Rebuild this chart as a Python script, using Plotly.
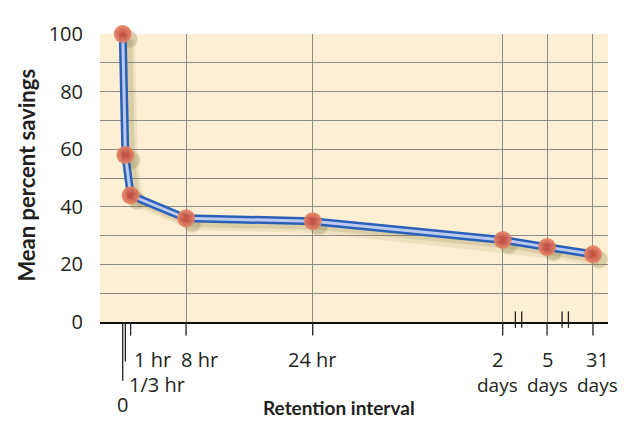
import plotly.graph_objects as go

# ---- data ----
interval_labels = ["0", "1/3 hr", "1 hr", "8 hr", "24 hr", "2\ndays", "5\ndays", "31\ndays"]
# position of each retention interval on the (broken) horizontal scale, in hour-like units
x_pos = [0, 1/3, 1, 8, 24, 48, 53.6, 59.4]
savings = [100, 58, 44, 36, 35, 28.5, 26, 23.5]
y_ticks = [0, 20, 40, 60, 80, 100]
y_minor = [10, 20, 30, 40, 50, 60, 70, 80, 90]
x_grid = [8, 24, 48, 53.6, 59.4]

FONT = "Open Sans"
TFONT = "Lato"
OFF = 8                     # page body margin of the browser
L, R, T, B = 100, 608, 23, 322   # plot area in page pixels
W, H = 627 - OFF, 426 - OFF
def px(p):  # page pixel y -> paper
    return (B - p) / (B - T)
def pxx(p):
    return (p - L) / (R - L)

fig = go.Figure()
# soft shadow
for dx, dy, a, w in [(0.8, -2.0, 0.12, 12), (0.7, -1.6, 0.18, 8)]:
    fig.add_trace(go.Scatter(x=[v + dx for v in x_pos], y=[v + dy for v in savings], mode="lines+markers",
                             line=dict(color=f"rgba(130,120,60,{a})", width=w),
                             marker=dict(size=18, color=f"rgba(130,120,60,{a})"),
                             hoverinfo="skip", cliponaxis=False))
fig.add_trace(go.Scatter(x=x_pos, y=savings, mode="lines", line=dict(color="#2a60b8", width=8),
                         cliponaxis=False, hoverinfo="skip"))
fig.add_trace(go.Scatter(x=x_pos, y=savings, mode="lines", line=dict(color="#bccaee", width=3),
                         cliponaxis=False, hoverinfo="skip"))
fig.add_trace(go.Scatter(x=x_pos, y=savings, mode="markers",
                         marker=dict(size=18, color="#e6866a", opacity=0.92,
                                     gradient=dict(type="radial", color="#c2402e"),
                                     line=dict(width=0)),
                         cliponaxis=False))

shapes = []
tick_bottoms = [383, 363, 336, 336, 336, 336, 336, 336]
for xv, bot in zip(x_pos, tick_bottoms):
    shapes.append(dict(type="line", xref="x", yref="paper", x0=xv, x1=xv, y0=0, y1=px(bot),
                       line=dict(color="#222222", width=1.3)))
for xb in [49.6, 50.4, 55.5, 56.3]:
    shapes.append(dict(type="line", xref="x", yref="paper", x0=xb, x1=xb, y0=px(311), y1=px(328),
                       line=dict(color="#222222", width=1.3)))

annotations = []
label_px = [(122.7, 407, "center"), (127, 386, "left"), (132, 360, "left"), (199, 360, "center"),
            (312, 360, "center")]
for (xp, yp, anc), lab in zip(label_px, interval_labels[:5]):
    annotations.append(dict(xref="paper", yref="paper", x=pxx(xp), y=px(yp), text=lab,
                            showarrow=False, xanchor=anc, yanchor="middle", height=22,
                            font=dict(family=FONT, size=20, color="#231f20")))
for xv, lab in zip([497.5, 547, 597], interval_labels[5:]):
    top, bot = lab.split("\n")
    annotations.append(dict(xref="paper", yref="paper", x=pxx(xv), y=px(360), text=top,
                            showarrow=False, xanchor="center", yanchor="middle", height=22,
                            font=dict(family=FONT, size=20, color="#231f20")))
    annotations.append(dict(xref="paper", yref="paper", x=pxx(xv), y=px(387), text=bot,
                            showarrow=False, xanchor="center", yanchor="middle", height=22,
                            font=dict(family=FONT, size=19, color="#231f20")))
annotations.append(dict(xref="paper", yref="paper", x=pxx(339), y=px(411), text="<b>Retention interval</b>",
                        showarrow=False, xanchor="center", yanchor="middle",
                        font=dict(family=TFONT, size=19, color="#231f20")))
annotations.append(dict(xref="paper", yref="paper", x=pxx(27), y=px(170), text="<b>Mean percent savings</b>",
                        showarrow=False, xanchor="center", yanchor="middle", textangle=-90,
                        font=dict(family=TFONT, size=22, color="#231f20")))

fig.update_layout(
    width=W, height=H, margin=dict(l=L - OFF, r=627 - R, t=T - OFF, b=426 - B),
    paper_bgcolor="white", plot_bgcolor="#fdefd3",
    showlegend=False, shapes=shapes, annotations=annotations,
    xaxis=dict(range=[-2.87, 61.3], tickvals=x_grid, showticklabels=False, showgrid=True,
               gridcolor="#8c8c8c", gridwidth=1.3, zeroline=False, ticks="",
               showline=True, linecolor="#111", linewidth=1.5),
    yaxis=dict(range=[0, 100], tickvals=y_ticks, showgrid=False, zeroline=False, ticks="",
               tickfont=dict(family=FONT, size=20, color="#231f20"), ticklabelstandoff=16,
               minor=dict(tickvals=y_minor, showgrid=True, gridcolor="#8c8c8c", gridwidth=1.3)),
)
fig.write_html("out.html")
